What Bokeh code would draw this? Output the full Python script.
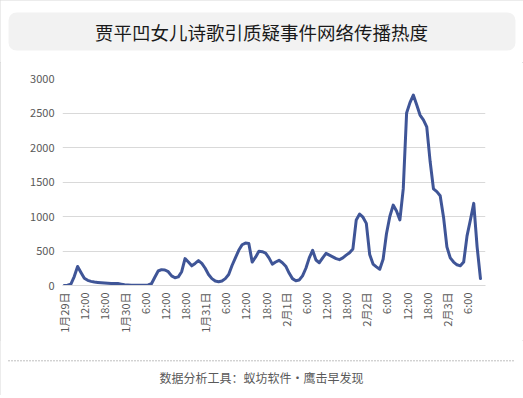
import math
from bokeh.plotting import figure
from bokeh.layouts import column
from bokeh.models import Range1d, FixedTicker, Label
from bokeh.embed import file_html
from bokeh.resources import INLINE

title_text = "贾平凹女儿诗歌引质疑事件网络传播热度"
footer_text = "数据分析工具：蚁坊软件·鹰击早发现"

# hourly heat values, starting 1月29日 06:00
heat = [
    0, 5, 20, 130, 275, 190, 105, 75, 60, 50,
    45, 40, 36, 33, 30, 30, 28, 20, 12, 8,
    5, 3, 2, 2, 3, 8, 25, 120, 210, 230,
    225, 200, 140, 112, 125, 200, 390, 340, 285, 320,
    360, 320, 250, 160, 100, 65, 55, 65, 100, 160,
    290, 400, 510, 590, 615, 610, 340, 410, 495, 490,
    470, 400, 310, 340, 365, 330, 280, 180, 100, 70,
    80, 140, 250, 400, 510, 370, 330, 400, 465, 440,
    415, 390, 375, 400, 440, 475, 530, 950, 1035, 990,
    900, 450, 310, 270, 235, 380, 750, 1000, 1165, 1080,
    950, 1400, 2500, 2650, 2760, 2620, 2470, 2400, 2300, 1800,
    1400, 1360, 1300, 990, 560, 400, 340, 300, 285, 340,
    720, 950, 1190, 560, 100,
]
hours = list(range(len(heat)))

tick_labels = ["1月29日", "12:00", "18:00", "1月30日", "6:00", "12:00", "18:00",
               "1月31日", "6:00", "12:00", "18:00", "2月1日", "6:00", "12:00", "18:00",
               "2月2日", "6:00", "12:00", "18:00", "2月3日", "6:00"]
tick_pos = [6 * k for k in range(len(tick_labels))]
y_ticks = [0, 500, 1000, 1500, 2000, 2500, 3000]

FONT = "Noto Sans CJK SC"
W = 523
BORDER = "#D9D9D9"

# ---- title strip ----
t = figure(width=W, height=62, output_backend="svg", toolbar_location=None,
           x_range=Range1d(0, W), y_range=Range1d(0, 62),
           min_border=0, outline_line_color=None, frame_align=False)
t.axis.visible = False
t.grid.visible = False
t.quad(left=8, right=515, bottom=12, top=50, fill_color="#F2F2F2",
       line_color=None, border_radius=8)
t.add_layout(Label(x=261, y=31, text=title_text, text_font=FONT,
                   text_font_size="18.5px", text_color="#1a1a1a",
                   text_align="center", text_baseline="middle"))

# ---- main chart ----
p = figure(width=W, height=278, output_backend="svg", toolbar_location=None,
           x_range=Range1d(-0.5, 125.5), y_range=Range1d(0, 3000),
           min_border_left=62, min_border_right=38, min_border_top=16,
           min_border_bottom=55, outline_line_color=None, frame_align=False)
p.line(hours, heat, line_width=3, color="#3F5597", line_join="round", line_cap="round")

p.xaxis.ticker = FixedTicker(ticks=tick_pos)
p.xaxis.major_label_overrides = {pos: lab for pos, lab in zip(tick_pos, tick_labels)}
p.xaxis.major_label_orientation = math.pi / 2
p.xaxis.axis_line_color = BORDER
p.xaxis.major_label_standoff = 7
p.xgrid.visible = False

p.yaxis.ticker = FixedTicker(ticks=y_ticks)
p.yaxis.axis_line_color = None
p.yaxis.major_label_standoff = 8
p.ygrid.grid_line_color = BORDER
p.ygrid.grid_line_width = 1

for ax in (p.xaxis, p.yaxis):
    ax.major_tick_line_color = None
    ax.minor_tick_line_color = None
    ax.major_tick_out = 0
    ax.major_tick_in = 0
    ax.minor_tick_out = 0
    ax.major_label_text_font = FONT
    ax.major_label_text_font_size = "11px"
    ax.major_label_text_color = "#595959"

# ---- footer strip ----
f = figure(width=W, height=55, output_backend="svg", toolbar_location=None,
           x_range=Range1d(0, W), y_range=Range1d(0, 55),
           min_border=0, outline_line_color=None, frame_align=False)
f.axis.visible = False
f.grid.visible = False
f.line(x=[8, 515], y=[34.7, 34.7], line_color="#7F7F7F", line_width=1, line_dash="1 2")
f.add_layout(Label(x=261, y=17.7, text=footer_text, text_font=FONT,
                   text_font_size="12px", text_color="#595959",
                   text_align="center", text_baseline="middle"))

layout = column(t, p, f, spacing=0,
                styles={"outline": "1px solid #D9D9D9", "outline-offset": "-1px"})
open("out.html", "w").write(file_html(layout, INLINE))
